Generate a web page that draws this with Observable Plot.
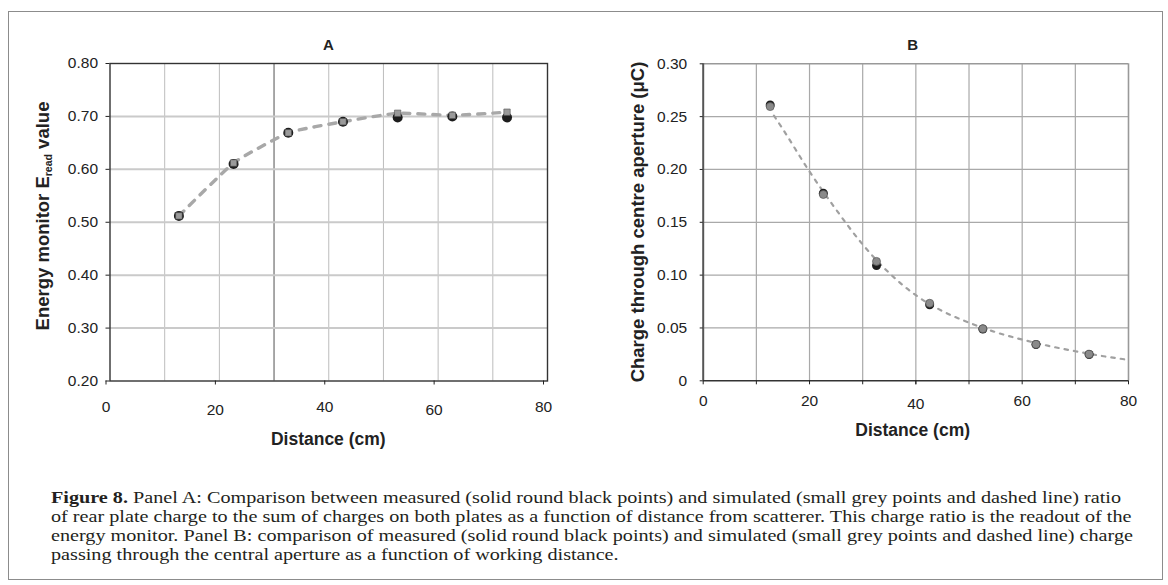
<!DOCTYPE html>
<html>
<head>
<meta charset="utf-8">
<script src="https://cdn.jsdelivr.net/npm/d3@7"></script>
<script src="https://cdn.jsdelivr.net/npm/@observablehq/plot@0.6"></script>
<style>
  html, body { margin: 0; padding: 0; background: #fff; }
  #page { position: relative; width: 1168px; height: 585px; overflow: hidden; background: #fff; }
  .panel { position: absolute; top: 0; }
  #frame { position: absolute; left: 8px; top: 11px; width: 1155px; height: 569px; border: 1.5px solid #8c8c8c; box-sizing: border-box; pointer-events: none; }
  #caption { position: absolute; left: 51px; top: 489px; font-family: "Liberation Serif", "Times New Roman", serif; font-size: 16px; line-height: 18.9px; color: #231f20; white-space: nowrap; transform-origin: 0 0; }
  #caption b { font-weight: bold; }
  #caption span { display: inline-block; }
</style>
</head>
<body>
<div id="page">
  <div id="panelA" class="panel" style="left:0px"></div>
  <div id="panelB" class="panel" style="left:580px"></div>
  <div id="caption">
    <span id="line1"><b>Figure 8.</b> Panel A: Comparison between measured (solid round black points) and simulated (small grey points and dashed line) ratio</span><br>
    <span>of rear plate charge to the sum of charges on both plates as a function of distance from scatterer. This charge ratio is the readout of the</span><br>
    <span>energy monitor. Panel B: comparison of measured (solid round black points) and simulated (small grey points and dashed line) charge</span><br>
    <span>passing through the central aperture as a function of working distance.</span>
  </div>
  <div id="frame"></div>
</div>
<script>
// ---------- data ----------
const distance = [12.6, 22.6, 32.6, 42.6, 52.6, 62.6, 72.6];

// Panel A: energy monitor E_read value
const measuredA  = [0.512, 0.610, 0.669, 0.690, 0.698, 0.700, 0.698];
const simulatedA = [0.512, 0.612, 0.669, 0.690, 0.706, 0.702, 0.708];

// Panel B: charge through centre aperture (µC)
const measuredB  = [0.261, 0.1775, 0.109, 0.072, 0.049, 0.0343, 0.0249];
const simulatedB = [0.2595, 0.1763, 0.113, 0.0734, 0.0492, 0.0345, 0.0252];

// Panel B simulated dashed curve
const curveDistanceB = [13.3, 15, 20, 25, 30, 35, 40, 45, 50, 55, 60, 65, 70, 75, 80];
const curveValueB    = [0.251, 0.238, 0.198, 0.162, 0.129, 0.102, 0.081, 0.066, 0.055, 0.046, 0.039, 0.033, 0.028, 0.0235, 0.0198];

// ticks
const xTickLabelsA1 = [0, 40, 80];
const xTickLabelsA2 = [20, 60];
const xGridA = [10, 20, 30, 40, 50, 60, 70];
const yTicksA = [0.2, 0.3, 0.4, 0.5, 0.6, 0.7, 0.8];
const xTicksB = [0, 10, 20, 30, 40, 50, 60, 70, 80];
const xGridB = [10, 20, 30, 40, 50, 60, 70];
const yTicksB = [0, 0.05, 0.10, 0.15, 0.20, 0.25, 0.30];

// ---------- tables ----------
const tableA = distance.map((d, i) => ({d, m: measuredA[i], s: simulatedA[i]}));
const tableB = distance.map((d, i) => ({d, m: measuredB[i], s: simulatedB[i]}));
const curveB = curveDistanceB.map((d, i) => ({d, v: curveValueB[i]}));

const fontStyle = {fontFamily: "'Liberation Sans', Arial, sans-serif", fontSize: "15.5px", color: "#222", background: "transparent", overflow: "visible"};

// ---------- Panel A ----------
const A = Plot.plot({
  width: 570, height: 460,
  marginLeft: 109.5, marginRight: 23, marginTop: 63, marginBottom: 79.5,
  style: fontStyle,
  x: {domain: [0, 80]},
  y: {domain: [0.2, 0.8]},
  marks: [
    Plot.gridX(xGridA, {stroke: "#bdbdbd", strokeOpacity: 1, strokeWidth: 1}),
    Plot.ruleX([30], {stroke: "#9a9a9a", strokeWidth: 1.6}),
    Plot.gridY(yTicksA.slice(1, -1), {stroke: "#cacaca", strokeOpacity: 1, strokeWidth: 2}),
    Plot.frame({stroke: "#333", strokeWidth: 1.4}),
    Plot.axisY(yTicksA, {tickSize: 4, tickPadding: 8, tickFormat: d3.format(".2f"), label: null}),
    Plot.axisX(xTickLabelsA1, {tickSize: 4, tickPadding: 16, dx: -4, label: null}),
    Plot.axisX(xTickLabelsA2, {tickSize: 4, tickPadding: 19.3, dx: -4, label: null}),
    Plot.line(tableA, {x: "d", y: "s", curve: "cardinal", tension: 0.55, stroke: "#a8a8a8", strokeWidth: 3.4, strokeDasharray: "7,8"}),
    Plot.dot(tableA, {x: "d", y: "m", r: 5, fill: "#1c1c1c"}),
    Plot.dot(tableA, {x: "d", y: "s", symbol: "square", r: 3.6, fill: "#9a9a9a", stroke: "#555", strokeWidth: 0.6})
  ]
});
document.getElementById("panelA").appendChild(A);

// ---------- Panel B ----------
const B = Plot.plot({
  width: 580, height: 460,
  marginLeft: 122.7, marginRight: 32, marginTop: 63.3, marginBottom: 79.7,
  style: fontStyle,
  x: {domain: [0, 80]},
  y: {domain: [0, 0.3]},
  marks: [
    Plot.gridX(xGridB, {stroke: "#a9a9a9", strokeOpacity: 1, strokeWidth: 1.2}),
    Plot.gridY(yTicksB.slice(1, -1), {stroke: "#a9a9a9", strokeOpacity: 1, strokeWidth: 1.2}),
    Plot.ruleX([80], {stroke: "#999", strokeWidth: 1.6}),
    Plot.ruleY([0.3], {stroke: "#999", strokeWidth: 1.6}),
    Plot.ruleX([0], {stroke: "#555", strokeWidth: 2}),
    Plot.ruleY([0], {stroke: "#333", strokeWidth: 1.5}),
    Plot.axisY(yTicksB, {tickSize: 3, tickPadding: 13, tickFormat: d => d === 0 ? "0" : d3.format(".2f")(d), label: null}),
    Plot.axisX(xTicksB, {tickSize: 4, tickPadding: 10.5, tickFormat: d => (d % 20 === 0 && d !== 40) ? String(d) : "", label: null}),
    Plot.axisX([40], {tickSize: 4, tickPadding: 13.5, label: null}),
    Plot.line(curveB, {x: "d", y: "v", curve: "monotone-x", stroke: "#a0a0a0", strokeWidth: 2.2, strokeDasharray: "3.5,6"}),
    Plot.dot(tableB, {x: "d", y: "m", r: 4.5, fill: "#1c1c1c"}),
    Plot.dot(tableB, {x: "d", y: "s", r: 4, fill: "#8a8a8a", stroke: "#555", strokeWidth: 0.7})
  ]
});
document.getElementById("panelB").appendChild(B);

// ---------- titles ----------
function addTitles(svg, t) {
  const s = d3.select(svg);
  const bold = "'Liberation Sans', Arial, sans-serif";
  s.append("text").attr("x", t.cx).attr("y", 50.3).attr("text-anchor", "middle")
    .attr("font-family", bold).attr("font-weight", "bold").attr("font-size", 15).attr("fill", "#222").text(t.panel);
  s.append("text").attr("x", t.cx).attr("y", t.xTitleY).attr("text-anchor", "middle")
    .attr("font-family", bold).attr("font-weight", "bold").attr("font-size", 17.5).attr("fill", "#222").text("Distance (cm)");
  const yt = s.append("text")
    .attr("transform", `translate(${t.yTitleX},${t.yTitleCY}) rotate(-90)`)
    .attr("text-anchor", "middle")
    .attr("font-family", bold).attr("font-weight", "bold").attr("font-size", 18.5).attr("fill", "#222");
  t.ylabel(yt);
}
addTitles(A, {
  panel: "A", cx: 328.3, xTitleY: 444.5, yTitleX: 49, yTitleCY: 216,
  ylabel: g => {
    g.append("tspan").text("Energy monitor E");
    g.append("tspan").attr("font-size", 10.5).attr("dy", 3).text("read");
    g.append("tspan").attr("dy", -3).text(" value");
  }
});
addTitles(B, {
  panel: "B", cx: 912.7 - 580, xTitleY: 435.5, yTitleX: 644 - 580, yTitleCY: 222,
  ylabel: g => { g.text("Charge through centre aperture (\u03BCC)"); }
});

// ---------- caption fit ----------
const cap = document.getElementById("caption");
const w1 = document.getElementById("line1").getBoundingClientRect().width;
cap.style.transform = `scaleX(${1070 / w1})`;
</script>
</body>
</html>
